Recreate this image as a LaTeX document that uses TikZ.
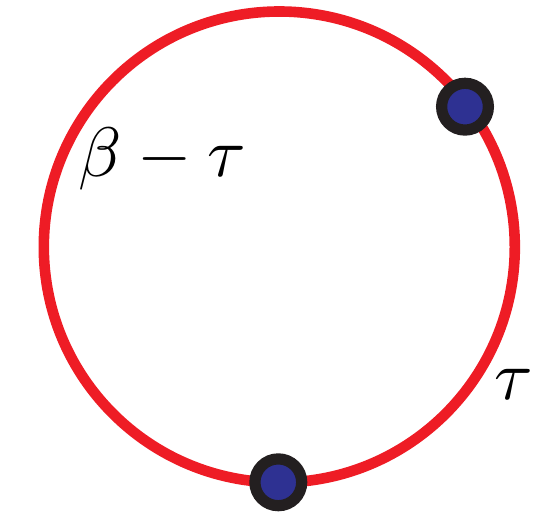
\documentclass[tikz,border=0pt]{standalone}
\usepackage{graphicx}
\usepackage{xcolor}
\definecolor{ringred}{HTML}{EE1C25}
\definecolor{dotblack}{HTML}{231F20}
\definecolor{dotblue}{HTML}{2E3192}
\newcommand{\biglbl}[1]{\scalebox{7}{$#1$}}
\begin{document}
\begin{tikzpicture}[x=1pt,y=1pt,
  ringstyle/.style={draw=ringred, line width=10.6pt, circle, minimum size=471pt, inner sep=0pt},
  dotstyle/.style={circle, draw=dotblack, fill=dotblue, line width=11.2pt, minimum size=46.8pt, inner sep=0pt},
  lbl/.style={inner sep=0pt, anchor=base west}]
\useasboundingbox (0,0) rectangle (535,511);
\node[ringstyle] (ring) at (279.3,264) {};
\node[dotstyle] (d1) at (465,404.3) {};
\node[dotstyle] (d2) at (278.3,28.7) {};
\node[lbl] (l1) at (78,334) {\biglbl{\beta-\tau}};
\node[lbl] (l2) at (494,111) {\biglbl{\tau}};
\end{tikzpicture}
\end{document}
